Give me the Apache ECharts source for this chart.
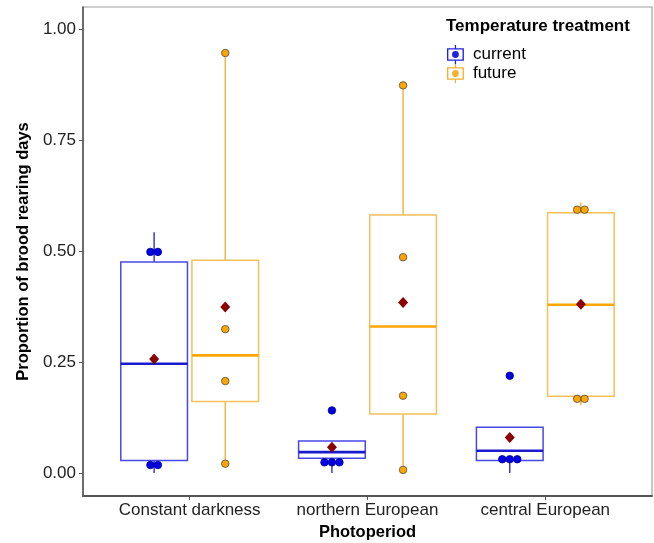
<!DOCTYPE html>
<html>
<head>
<meta charset="utf-8">
<script src="https://cdn.jsdelivr.net/npm/echarts@6/dist/echarts.min.js"></script>
<style>html,body{margin:0;padding:0;background:#fff}#c{width:654px;height:543px}</style>
</head>
<body>
<div id="c"></div>
<script>
// ---- data ----
const categories = ['Constant darkness', 'northern European', 'central European'];
const groups = ['current', 'future'];
const yTicks = [0, 0.25, 0.5, 0.75, 1.0];
// box stats: [lower whisker, q1, median, q3, upper whisker]
const currentBox = [
  [0.000, 0.028, 0.246, 0.475, 0.542],
  [0.000, 0.033, 0.047, 0.072, 0.072],
  [0.000, 0.028, 0.050, 0.103, 0.103]
];
const futureBox = [
  [0.021, 0.161, 0.265, 0.479, 0.946],
  [0.007, 0.133, 0.330, 0.581, 0.873],
  [0.153, 0.173, 0.379, 0.586, 0.609]
];
const currentPoints = [
  [0.498, 0.498, 0.018, 0.018],
  [0.141, 0.024, 0.024, 0.024],
  [0.219, 0.031, 0.031, 0.031]
];
const futurePoints = [
  [0.946, 0.324, 0.207, 0.021],
  [0.873, 0.486, 0.174, 0.007],
  [0.593, 0.593, 0.167, 0.167]
];
const currentMean = [0.257, 0.058, 0.080];
const futureMean = [0.374, 0.384, 0.380];

// ---- styling ----
const dodge = [-0.2, 0.2];
const boxHalf = 0.1875;
const style = {
  current: {box: '#4848e8', median: '#1a1acf', whisker: '#3a3ae0', fill: '#0000e6', border: '#00008b'},
  future: {box: '#f5c05a', median: '#ffa500', whisker: '#f2b844', fill: '#ffa500', border: '#4d4d4d'}
};
const ptSize = 7.5;

function boxData(stats, gi) {
  return stats.map((s, i) => [i + 1 + dodge[gi]].concat(s));
}
function pointData(pts, gi) {
  const out = [];
  pts.forEach((arr, i) => {
    const counts = {};
    arr.forEach(v => { counts[v] = (counts[v] || 0) + 1; });
    const seen = {};
    arr.forEach(v => {
      const n = counts[v];
      const k = seen[v] = (seen[v] || 0) + 1;
      out.push({value: [i + 1 + dodge[gi], v], symbolOffset: [((k - 1) - (n - 1) / 2) * ptSize, 0]});
    });
  });
  return out;
}
function meanData(m, gi) {
  return m.map((v, i) => [i + 1 + dodge[gi], v]);
}

function boxSeries(name, stats, gi) {
  const st = style[name];
  return {
    type: 'custom', name: name, z: 2,
    data: boxData(stats, gi),
    encode: {x: 0, y: [1, 2, 3, 4, 5]},
    renderItem: function (params, api) {
      const x = api.value(0);
      const pLo = api.coord([x, api.value(1)]);
      const pQ1 = api.coord([x, api.value(2)]);
      const pMed = api.coord([x, api.value(3)]);
      const pQ3 = api.coord([x, api.value(4)]);
      const pHi = api.coord([x, api.value(5)]);
      const hw = api.size([boxHalf, 0])[0];
      return {
        type: 'group',
        children: [
          {type: 'line', shape: {x1: pLo[0], y1: pLo[1], x2: pQ1[0], y2: pQ1[1]}, style: {stroke: st.whisker, lineWidth: 1.5}},
          {type: 'line', shape: {x1: pQ3[0], y1: pQ3[1], x2: pHi[0], y2: pHi[1]}, style: {stroke: st.whisker, lineWidth: 1.5}},
          {type: 'rect', shape: {x: pQ3[0] - hw, y: pQ3[1], width: hw * 2, height: pQ1[1] - pQ3[1]}, style: {fill: 'rgba(255,255,255,0)', stroke: st.box, lineWidth: 1.5}},
          {type: 'line', shape: {x1: pMed[0] - hw, y1: pMed[1], x2: pMed[0] + hw, y2: pMed[1]}, style: {stroke: st.median, lineWidth: 2.6}}
        ]
      };
    }
  };
}
function pointSeries(name, pts, gi) {
  const st = style[name];
  return {
    type: 'scatter', name: name, z: 3,
    symbol: 'circle', symbolSize: ptSize,
    itemStyle: {color: st.fill, borderColor: st.border, borderWidth: 0.8, opacity: 1},
    data: pointData(pts, gi)
  };
}
function meanSeries(name, m, gi) {
  return {
    type: 'scatter', name: name, z: 4,
    symbol: 'diamond', symbolSize: [10, 11],
    itemStyle: {color: '#8b0000', opacity: 1},
    data: meanData(m, gi)
  };
}

const iconPath = 'path://M7.4,-3H8.6V0H7.4Z M7.4,12H8.6V15H7.4Z M0,0H16V12H0Z M1.3,1.3V10.7H14.7V1.3Z M8,2.8A3.2,3.2 0 1,1 8,9.2A3.2,3.2 0 1,1 8,2.8Z';

const chart = echarts.init(document.getElementById('c'), null, {renderer: 'canvas'});
chart.setOption({
  animation: false,
  backgroundColor: '#ffffff',
  textStyle: {fontFamily: 'Liberation Sans, Arial, sans-serif'},
  title: {
    text: 'Temperature treatment', left: 446, top: 18, padding: 0,
    textStyle: {fontSize: 17, fontWeight: 'bold', color: '#000', fontFamily: 'Liberation Sans, Arial, sans-serif'}
  },
  legend: {
    orient: 'vertical', left: 442, top: 40,
    itemWidth: 17, itemHeight: 19, itemGap: 0,
    textStyle: {fontSize: 17, color: '#000', padding: [0, 0, 0, 4], fontFamily: 'Liberation Sans, Arial, sans-serif'},
    data: [
      {name: 'current', icon: iconPath, itemStyle: {color: '#2020e0', borderWidth: 0}},
      {name: 'future', icon: iconPath, itemStyle: {color: '#f5b030', borderWidth: 0}}
    ]
  },
  grid: {left: 83, right: 2, top: 7, bottom: 47, show: true, borderColor: '#a0a0a0', borderWidth: 1.2,
    backgroundColor: '#fff', containLabel: false, outerBoundsMode: 'none'},
  xAxis: {
    type: 'value', min: 0.4, max: 3.6,
    name: 'Photoperiod', nameLocation: 'middle', nameGap: 27,
    nameTextStyle: {fontSize: 16.5, fontWeight: 'bold', color: '#000'},
    splitLine: {show: false},
    axisLine: {show: true, onZero: false, lineStyle: {color: '#555', width: 2}},
    axisTick: {show: true, length: 4, customValues: [1, 2, 3], lineStyle: {color: '#555'}},
    axisLabel: {customValues: [1, 2, 3], fontSize: 17, color: '#222', margin: 6,
      formatter: v => categories[Math.round(v) - 1] || ''}
  },
  yAxis: {
    type: 'value', min: -0.0518, max: 1.0495,
    name: 'Proportion of brood rearing days', nameLocation: 'middle', nameGap: 46, nameRotate: 90,
    nameTextStyle: {fontSize: 16.5, fontWeight: 'bold', color: '#000'},
    splitLine: {show: false},
    axisLine: {show: true, onZero: false, lineStyle: {color: '#555', width: 1.6}},
    axisTick: {show: true, length: 4, customValues: yTicks, lineStyle: {color: '#555'}},
    axisLabel: {customValues: yTicks, fontSize: 17, color: '#222', margin: 7,
      formatter: v => v.toFixed(2)}
  },
  series: [
    boxSeries('current', currentBox, 0),
    boxSeries('future', futureBox, 1),
    pointSeries('current', currentPoints, 0),
    pointSeries('future', futurePoints, 1),
    meanSeries('current', currentMean, 0),
    meanSeries('future', futureMean, 1)
  ]
});
</script>
</body>
</html>
